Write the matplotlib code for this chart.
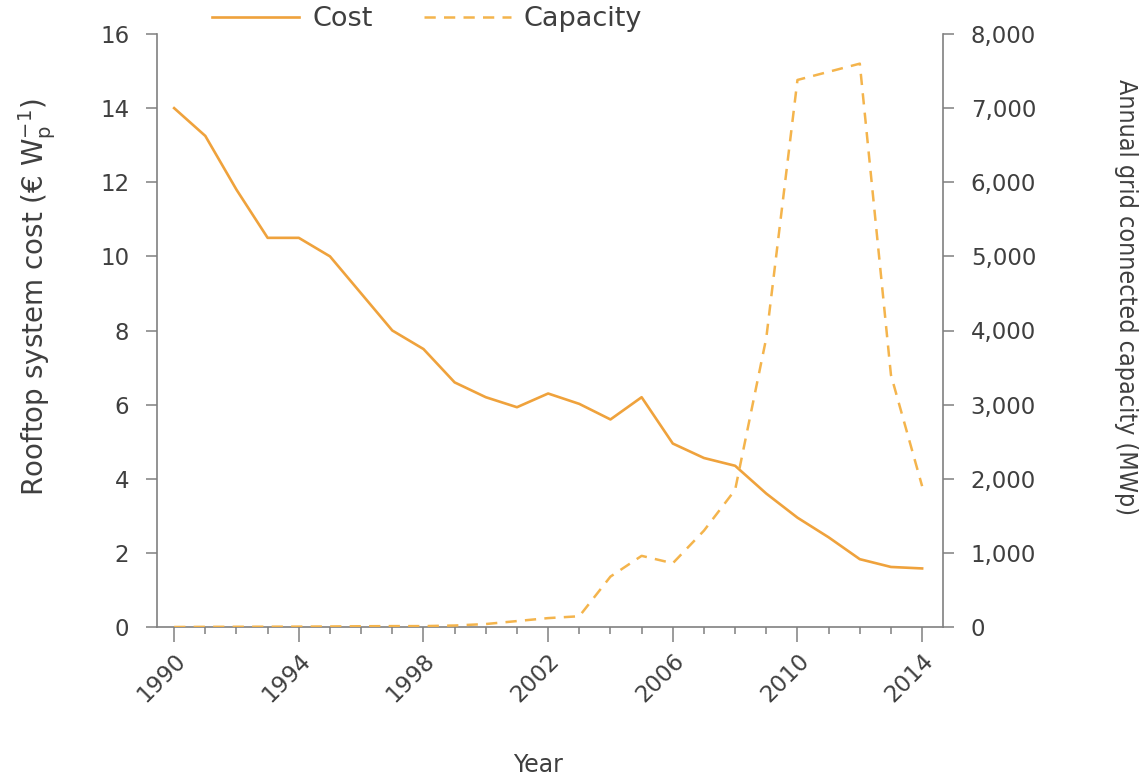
import matplotlib
matplotlib.use("Agg")
import matplotlib.pyplot as plt
from matplotlib.ticker import MultipleLocator, FuncFormatter
from matplotlib import font_manager

# Rooftop PV: system cost and annual grid-connected capacity
years = list(range(1990, 2015))
cost = [14.0, 13.25, 11.8, 10.5, 10.5, 10.0, 9.0, 8.0, 7.5, 6.6,
        6.2, 5.93, 6.3, 6.02, 5.6, 6.2, 4.95, 4.56, 4.35, 3.6,
        2.95, 2.42, 1.83, 1.62, 1.58]
capacity = [0, 2, 3, 4, 5, 7, 10, 12, 12, 20,
            40, 80, 120, 145, 680, 960, 860, 1300, 1850, 3900,
            7380, 7490, 7600, 3400, 1900]

x_ticks = [1990, 1994, 1998, 2002, 2006, 2010, 2014]
cost_ticks = [0, 2, 4, 6, 8, 10, 12, 14, 16]
cap_ticks = [0, 1000, 2000, 3000, 4000, 5000, 6000, 7000, 8000]

solid_color = "#EFA23C"
dash_color = "#F4B44C"
text_color = "#3f3f3f"
axis_color = "#808080"

plt.rcParams["font.family"] = ["DejaVu Sans"]
plt.rcParams["mathtext.fontset"] = "dejavusans"
plt.rcParams["mathtext.default"] = "regular"


def is_plain(f):
    w = f.weight
    if isinstance(w, str):
        w = {"normal": 400, "regular": 400, "book": 400}.get(w.lower(), 700)
    return w <= 450 and f.style == "normal"


# a condensed regular face for the right-hand axis title, if installed
narrow = None
for f in font_manager.fontManager.ttflist:
    if ("Narrow" in f.name or "Condensed" in f.name
            or f.stretch in ("condensed", "semi-condensed")) and is_plain(f):
        narrow = f
        break

fig = plt.figure(figsize=(11.46, 7.79), dpi=100)
ax = fig.add_axes([157 / 1146, 152 / 779, (943 - 157) / 1146, (627 - 34) / 779])
ax2 = ax.twinx()

l1, = ax.plot(years, cost, color=solid_color, lw=1.9, label="Cost", zorder=3)
l2, = ax2.plot(years, capacity, color=dash_color, lw=1.8, dashes=(4.5, 3.3),
               label="Capacity", zorder=3)

ax.set_xlim(1989.45, 2014.67)
ax.set_ylim(0, 16)
ax2.set_ylim(0, 8000)

for a in (ax, ax2):
    a.spines["top"].set_visible(False)
    for s in ("left", "right", "bottom"):
        a.spines[s].set_color(axis_color)
        a.spines[s].set_linewidth(1.2)
ax.spines["right"].set_visible(False)
ax2.spines["left"].set_visible(False)
ax2.spines["bottom"].set_visible(False)

ax.set_xticks(x_ticks)
ax.xaxis.set_minor_locator(MultipleLocator(1))
ax.set_yticks(cost_ticks)
ax2.set_yticks(cap_ticks)
ax2.yaxis.set_major_formatter(FuncFormatter(lambda v, p: f"{int(v):,}"))

ax.tick_params(axis="x", which="major", direction="out", length=11, width=1.1,
               color=axis_color, labelsize=16.5, labelcolor=text_color, pad=5)
ax.tick_params(axis="x", which="minor", direction="out", length=5, width=1.1,
               color=axis_color)
ax.tick_params(axis="y", direction="out", length=8, width=1.1, color=axis_color,
               labelsize=16.5, labelcolor=text_color, pad=12)
ax2.tick_params(axis="y", direction="out", length=8, width=1.1, color=axis_color,
                labelsize=16.5, labelcolor=text_color, pad=12)

for lab in ax.get_xticklabels():
    lab.set_rotation(45)
    lab.set_ha("right")
    lab.set_va("top")
    lab.set_rotation_mode("anchor")

ax.set_ylabel(r"Rooftop system cost (€ W$_p^{-1}$)", fontsize=20,
              color=text_color)
ax.yaxis.set_label_coords(-0.126, 0.556)
ax.set_xlabel("Year", fontsize=17, color=text_color)
ax.xaxis.set_label_coords(0.485, -0.212)

if narrow is not None:
    right_fp = font_manager.FontProperties(fname=narrow.fname, size=18)
else:
    right_fp = font_manager.FontProperties(family="DejaVu Sans", size=15)
ax2.set_ylabel("Annual grid connected capacity (MWp)", fontproperties=right_fp,
               color=text_color, rotation=-90, va="bottom")
ax2.yaxis.set_label_coords(1.218, 0.556)

fig.legend(handles=[l1, l2], loc="center left",
           bbox_to_anchor=(188 / 1146, 1 - 19 / 779), ncol=2, frameon=False,
           fontsize=19.5, handlelength=3.2, handletextpad=0.48,
           columnspacing=1.9, labelcolor=text_color)

fig.savefig("out.png", dpi=100, facecolor="white")
